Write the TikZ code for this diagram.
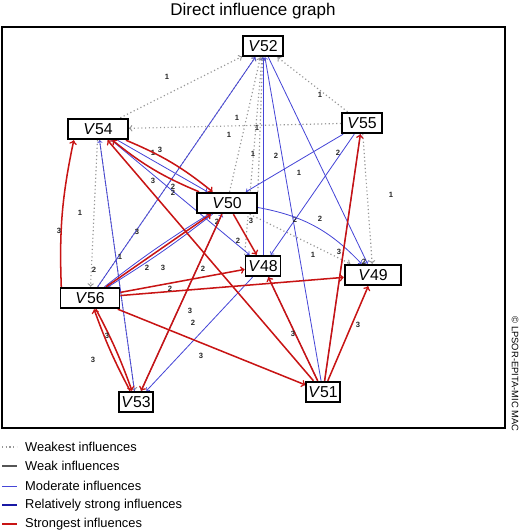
\documentclass[tikz,border=0pt]{standalone}
\usepackage{fontspec}
\setmainfont{Liberation Sans}
\usetikzlibrary{backgrounds}

\definecolor{weakestgray}{RGB}{150,150,150}
\definecolor{weakgray}{RGB}{85,85,85}
\definecolor{moderateblue}{RGB}{70,70,215}
\definecolor{strongblue}{RGB}{25,25,165}
\definecolor{strongred}{RGB}{200,20,20}

\tikzset{
  var/.style={draw=black,line width=1.5pt,fill=white,inner sep=0pt,minimum height=0.62cm,font=\fontsize{13.5}{15}\selectfont},
  weakest/.style={draw=weakestgray,line width=1pt,dash pattern=on 1pt off 2.2pt,->},
  weak/.style={draw=weakgray,line width=1.1pt,->},
  moderate/.style={draw=moderateblue,line width=0.7pt,->},
  strong/.style={draw=strongblue,line width=1.2pt,->},
  strongest/.style={draw=strongred,line width=1.3pt,->},
  lbl/.style={font=\fontsize{6.5}{7}\selectfont\bfseries,inner sep=0pt,text=black!85}
}

\begin{document}
\begin{tikzpicture}[x=0.03cm,y=-0.03cm,>=to]
\useasboundingbox (0,0) rectangle (520,532);
\node[font=\fontsize{14.5}{16}\selectfont](title) at (253,11){Direct influence graph};
\draw[line width=1.2pt] (2,27) rectangle (505,428);
\node[font=\fontsize{8}{9}\selectfont,rotate=-90](copy) at (515,374){\textcopyright{} LPSOR-EPITA-MIC MAC};

\node[var,minimum width=1.2cm](V52) at (263,46){\textit{V}52};
\node[var,minimum width=1.8cm](V54) at (98,129){\textit{V}54};
\node[var,minimum width=1.2cm](V55) at (362,123){\textit{V}55};
\node[var,minimum width=1.8cm](V50) at (227,203){\textit{V}50};
\node[var,minimum width=1.05cm](V48) at (263,266){\textit{V}48};
\node[var,minimum width=1.7cm](V49) at (373,275){\textit{V}49};
\node[var,minimum width=1.77cm](V56) at (90,298){\textit{V}56};
\node[var,minimum width=1.02cm](V53) at (136,402){\textit{V}53};
\node[var,minimum width=1.0cm](V51) at (323,392){\textit{V}51};

\begin{scope}[on background layer]
% weakest influences
\draw[weakest] (V54) -- (V52) node[lbl] at (167,77){1};
\draw[weakest] (V55) -- (V52) node[lbl] at (320,95){1};
\draw[weakest] (V55) -- (V54) node[lbl] at (237,118){1};
\draw[weakest] (V55) -- (V49) node[lbl] at (391,195){1};
\draw[weakest] (V50) -- (V52) node[lbl] at (229,135){1};
\draw[weakest] (V50.north east) -- (V52) node[lbl] at (257,128){1};
\draw[weakest] (V48.north west) -- (V52) node[lbl] at (253,154){1};
\draw[weakest] (V56) -- (V52) node[lbl] at (153,153){1};
\draw[weakest] (V54) -- (V56) node[lbl] at (80,213){1};
\draw[weakest] (V54) -- (V53);
\draw[weakest] (V50) -- (V49) node[lbl] at (339,252){3};
\draw[weakest] (V50) -- (V53) node[lbl] at (193,323){2};
% moderate influences
\draw[moderate] (V56) -- (V52) node[lbl] at (137,232){3};
\draw[moderate] (V48) -- (V52) node[lbl] at (276,156){2};
\draw[moderate] (V51) -- (V52) node[lbl] at (299,173){1};
\draw[moderate] (V52) -- (V49);
\draw[moderate] (V55) -- (V50) node[lbl] at (338,153){2};
\draw[moderate] (V55) -- (V48) node[lbl] at (295,220){2};
\draw[moderate] (V50) to[bend left=18] (V49) node[lbl] at (320,219){2};
\draw[moderate] (V54) -- (V48) node[lbl] at (238,241){2};
\draw[moderate] (V54) -- (V50) node[lbl] at (173,193){2};
\draw[moderate] (V53) -- (V54);
\draw[moderate] (V50) to[bend left=3] (V56) node[lbl] at (94,270){2};
\draw[moderate] (V56) to[bend left=3] (V50) node[lbl] at (147,268){2};
\draw[moderate] (V53) -- (V50) node[lbl] at (217,222){2};
\draw[moderate] (V48) -- (V53) node[lbl] at (190,311){3};
\draw[moderate] (V51) -- (V55) node[lbl] at (364,262){2};
\draw[moderate] (V51) -- (V48) node[lbl] at (313,255){1};
% strongest influences
\draw[strongest] ([xshift=0.05cm]V56.north west) to[bend left=7] ([xshift=0.2cm]V54.south west) node[lbl] at (59,231){3};
\draw[strongest] (V54) to[bend left=8] (V50) node[lbl] at (160,150){3};
\draw[strongest] (V50) to[bend left=8] (V54) node[lbl] at (173,187){2};
\draw[strongest] (V51) -- (V54) node[lbl] at (153,181){3};
\draw[strongest] (V50) -- (V48) node[lbl] at (251,221){3};
\draw[strongest] (V56) -- (V50) node[lbl] at (120,257){1};
\draw[strongest] (V56) -- (V48) node[lbl] at (163,268){3};
\draw[strongest] (V56) -- (V49) node[lbl] at (170,289){2};
\draw[strongest] (V50) -- (V53) node[lbl] at (203,269){2};
\draw[strongest] (V56) to[bend left=4] (V53) node[lbl] at (107,336){3};
\draw[strongest] (V53) to[bend left=4] (V56) node[lbl] at (93,360){3};
\draw[strongest] (V51) -- (V48) node[lbl] at (293,334){3};
\draw[strongest] (V51) -- (V55);
\draw[strongest] (V51) -- (V49) node[lbl] at (358,325){3};
\draw[strongest] (V56) -- (V51) node[lbl] at (201,356){3};
\end{scope}

% legend
\foreach \y/\s/\t [count=\i] in {447/weakest/Weakest influences,466/weak/Weak influences,486/moderate/Moderate influences,505/strong/Relatively strong influences,524/strongest/Strongest influences}{
  \draw[\s,-] (2,\y) -- (17,\y);
  \node[anchor=west,inner sep=0pt,font=\fontsize{11}{13}\selectfont](leg\i) at (25,\y){\t};
}
\end{tikzpicture}
\end{document}
